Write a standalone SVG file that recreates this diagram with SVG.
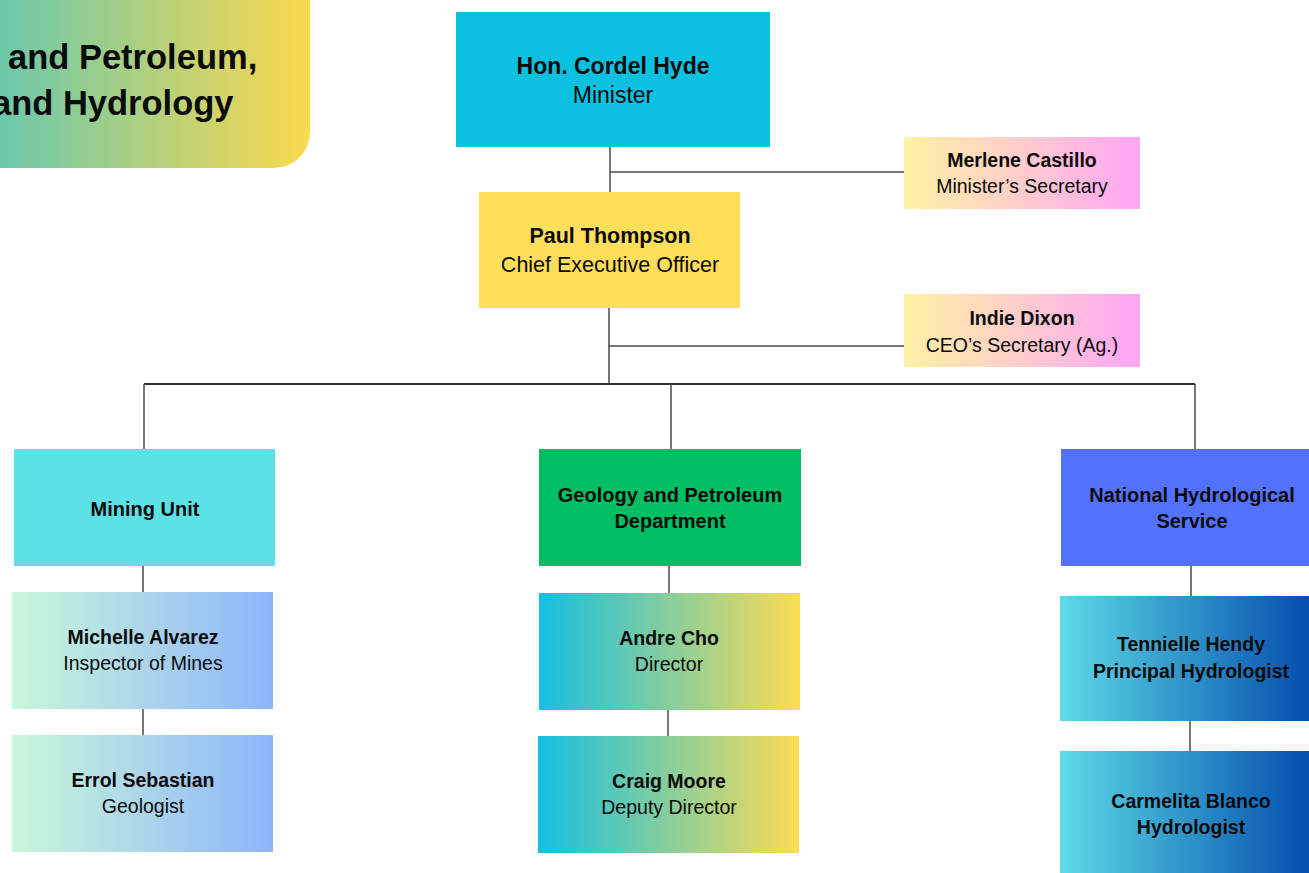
<svg xmlns="http://www.w3.org/2000/svg" width="1309" height="873" viewBox="0 0 1309 873">
<style>
  text { font-family: "Liberation Sans", Arial, sans-serif; fill: #0b0b0b; text-anchor: middle; }
  .b { font-weight: bold; }
  .t { font-size: 34.5px; font-weight: bold; text-anchor: start; }
  .n { font-size: 19.5px; }
  .u { font-size: 20px; font-weight: bold; }
  .conn line { stroke: #4a4a4a; stroke-width: 1.5; }
</style>
<defs>
  <linearGradient id="gTitle" x1="0" y1="0" x2="1" y2="0">
    <stop offset="0" stop-color="#58c6b8"/>
    <stop offset="1" stop-color="#fbd94c"/>
  </linearGradient>
  <linearGradient id="gSec" x1="0" y1="0" x2="1" y2="0">
    <stop offset="0" stop-color="#fff2a4"/>
    <stop offset="1" stop-color="#ffa6f6"/>
  </linearGradient>
  <linearGradient id="gMine" x1="0" y1="0" x2="1" y2="0">
    <stop offset="0" stop-color="#c8f8d9"/>
    <stop offset="1" stop-color="#8fb4fa"/>
  </linearGradient>
  <linearGradient id="gGeo" x1="0" y1="0" x2="1" y2="0">
    <stop offset="0" stop-color="#14bfe2"/>
    <stop offset="1" stop-color="#fcdc55"/>
  </linearGradient>
  <linearGradient id="gHyd" x1="0" y1="0" x2="1" y2="0">
    <stop offset="0" stop-color="#5cdbe6"/>
    <stop offset="1" stop-color="#0048aa"/>
  </linearGradient>
</defs>
<rect width="1309" height="873" fill="#ffffff"/>

<g id="title">
  <rect x="-40" y="-40" width="350" height="208" rx="36" fill="url(#gTitle)"/>
  <text class="t" x="8" y="69">and Petroleum,</text>
  <text class="t" x="-8" y="115">and Hydrology</text>
</g>

<g class="conn" id="connectors">
  <line x1="610" y1="147" x2="610" y2="192"/>
  <line x1="610" y1="172" x2="905" y2="172"/>
  <line x1="609" y1="308" x2="609" y2="384"/>
  <line x1="609" y1="346" x2="904" y2="346"/>
  <line x1="144" y1="384" x2="1195" y2="384" style="stroke:#333;stroke-width:2"/>
  <line x1="144" y1="384" x2="144" y2="449"/>
  <line x1="671" y1="384" x2="671" y2="449"/>
  <line x1="1195" y1="384" x2="1195" y2="449"/>
  <line x1="143" y1="566" x2="143" y2="592"/>
  <line x1="143" y1="709" x2="143" y2="735"/>
  <line x1="669" y1="566" x2="669" y2="593"/>
  <line x1="668" y1="710" x2="668" y2="736"/>
  <line x1="1191" y1="566" x2="1191" y2="596"/>
  <line x1="1190" y1="721" x2="1190" y2="751"/>
</g>

<g id="minister">
  <rect x="456" y="12" width="314" height="135" fill="#0cc0df"/>
  <text class="b" x="613" y="74" style="font-size:23px">Hon. Cordel Hyde</text>
  <text x="613" y="103" style="font-size:23px">Minister</text>
</g>

<g id="ceo">
  <rect x="479" y="192" width="261" height="116" fill="#ffde59"/>
  <text class="b" x="610" y="243" style="font-size:21.5px">Paul Thompson</text>
  <text x="610" y="272" style="font-size:21.5px">Chief Executive Officer</text>
</g>

<g id="merlene">
  <rect x="904" y="137" width="236" height="72" fill="url(#gSec)"/>
  <text class="b n" x="1022" y="167">Merlene Castillo</text>
  <text class="n" x="1022" y="193">Minister’s Secretary</text>
</g>

<g id="indie">
  <rect x="904" y="294" width="236" height="73" fill="url(#gSec)"/>
  <text class="b n" x="1022" y="325">Indie Dixon</text>
  <text class="n" x="1022" y="352">CEO’s Secretary (Ag.)</text>
</g>

<g id="mining-unit">
  <rect x="14" y="449" width="261" height="117" fill="#5ce1e6"/>
  <text class="u" x="145" y="516">Mining Unit</text>
</g>

<g id="michelle">
  <rect x="12" y="592" width="261" height="117" fill="url(#gMine)"/>
  <text class="b n" x="143" y="644">Michelle Alvarez</text>
  <text class="n" x="143" y="670">Inspector of Mines</text>
</g>

<g id="errol">
  <rect x="12" y="735" width="261" height="117" fill="url(#gMine)"/>
  <text class="b n" x="143" y="787">Errol Sebastian</text>
  <text class="n" x="143" y="813">Geologist</text>
</g>

<g id="geology-dept">
  <rect x="539" y="449" width="262" height="117" fill="#00bf63"/>
  <text class="u" x="670" y="502">Geology and Petroleum</text>
  <text class="u" x="670" y="528">Department</text>
</g>

<g id="andre">
  <rect x="539" y="593" width="261" height="117" fill="url(#gGeo)"/>
  <text class="b n" x="669" y="645">Andre Cho</text>
  <text class="n" x="669" y="671">Director</text>
</g>

<g id="craig">
  <rect x="538" y="736" width="261" height="117" fill="url(#gGeo)"/>
  <text class="b n" x="669" y="788">Craig Moore</text>
  <text class="n" x="669" y="814">Deputy Director</text>
</g>

<g id="nhs">
  <rect x="1061" y="449" width="260" height="117" fill="#5271ff"/>
  <text class="u" x="1192" y="502">National Hydrological</text>
  <text class="u" x="1192" y="528">Service</text>
</g>

<g id="tennielle">
  <rect x="1060" y="596" width="260" height="125" fill="url(#gHyd)"/>
  <text class="b n" x="1191" y="651">Tennielle Hendy</text>
  <text class="b n" x="1191" y="678">Principal Hydrologist</text>
</g>

<g id="carmelita">
  <rect x="1060" y="751" width="260" height="130" fill="url(#gHyd)"/>
  <text class="b n" x="1191" y="808">Carmelita Blanco</text>
  <text class="b n" x="1191" y="834">Hydrologist</text>
</g>
</svg>
